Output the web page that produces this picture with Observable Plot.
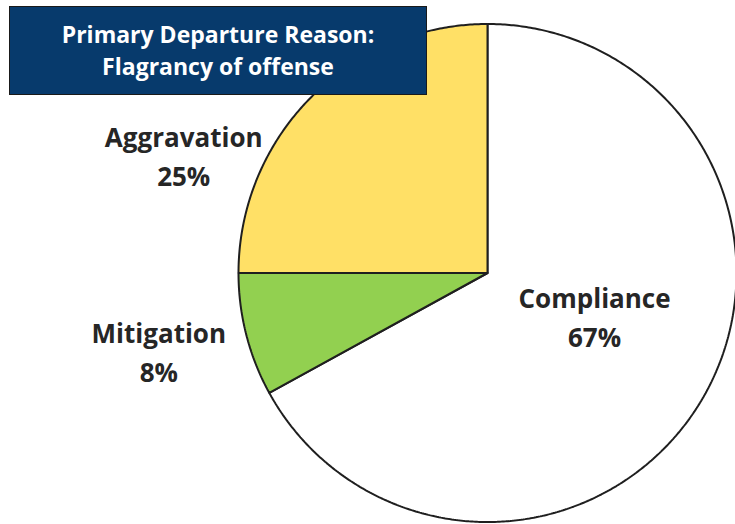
<!DOCTYPE html>
<html>
<head>
<meta charset="utf-8">
<script src="https://cdn.jsdelivr.net/npm/d3@7"></script>
<script src="https://cdn.jsdelivr.net/npm/@observablehq/plot@0.6"></script>
<style>
  html, body { margin: 0; padding: 0; background: #fff; }
  #wrap { position: relative; width: 735px; height: 524px; overflow: hidden; }
  #title {
    position: absolute; left: 9px; top: 6px; width: 418px; height: 89px;
    box-sizing: border-box; background: #073A6C; border: 1.5px solid #1a1a1a;
    color: #fff; font-family: "Open Sans", Lato, sans-serif; font-weight: bold;
    font-size: 23px; line-height: 32px; text-align: center; padding-top: 11px;
  }
</style>
</head>
<body>
<div id="wrap">
  <div id="chart"></div>
  <div id="title">Primary Departure Reason:<br>Flagrancy of offense</div>
</div>
<script>
// Data
const categories = ["Compliance", "Mitigation", "Aggravation"];
const shares = [67, 8, 25];
const labels = ["Compliance\n67%", "Mitigation\n8%", "Aggravation\n25%"];
const colors = ["#FFFFFF", "#92D050", "#FFE066"];
// label anchor positions (layout, in pie-radius units relative to centre)
const labelX = [0.43, -1.32, -1.22];
const labelY = [-0.17, -0.31, 0.476];

// Build slice polygons from cumulative shares (clockwise from 12 o'clock)
const total = d3.sum(shares);
const slices = [];
let cum = 0;
categories.forEach((c, i) => {
  const a0 = cum / total * 2 * Math.PI;
  cum += shares[i];
  const a1 = cum / total * 2 * Math.PI;
  const n = Math.max(2, Math.ceil((a1 - a0) / (Math.PI / 360)));
  slices.push({cat: c, x: 0, y: 0});
  for (let k = 0; k <= n; k++) {
    const a = a0 + (a1 - a0) * k / n;
    slices.push({cat: c, x: Math.sin(a), y: Math.cos(a)});
  }
  slices.push({cat: c, x: 0, y: 0});
});
const labelData = categories.map((c, i) => ({cat: c, text: labels[i], x: labelX[i], y: labelY[i]}));

const W = 735, H = 524, cx = 487, cy = 272.5, R = 249;
const plot = Plot.plot({
  width: W, height: H,
  margin: 0,
  x: {domain: [-cx / R, (W - cx) / R], axis: null},
  y: {domain: [-(H - cy) / R, cy / R], axis: null},
  color: {domain: categories, range: colors},
  marks: [
    Plot.line(slices, {x: "x", y: "y", z: "cat", fill: "cat", stroke: "#1f1f1f", strokeWidth: 2, strokeLinejoin: "miter", curve: "linear"}),
    Plot.text(labelData, {
      x: "x", y: "y", text: "text", lineHeight: 1.5,
      fontSize: 26, fontWeight: "bold", fill: "#262626",
      fontFamily: "'Open Sans', Lato, sans-serif", textAnchor: "middle"
    })
  ]
});
document.getElementById("chart").appendChild(plot);
</script>
</body>
</html>
